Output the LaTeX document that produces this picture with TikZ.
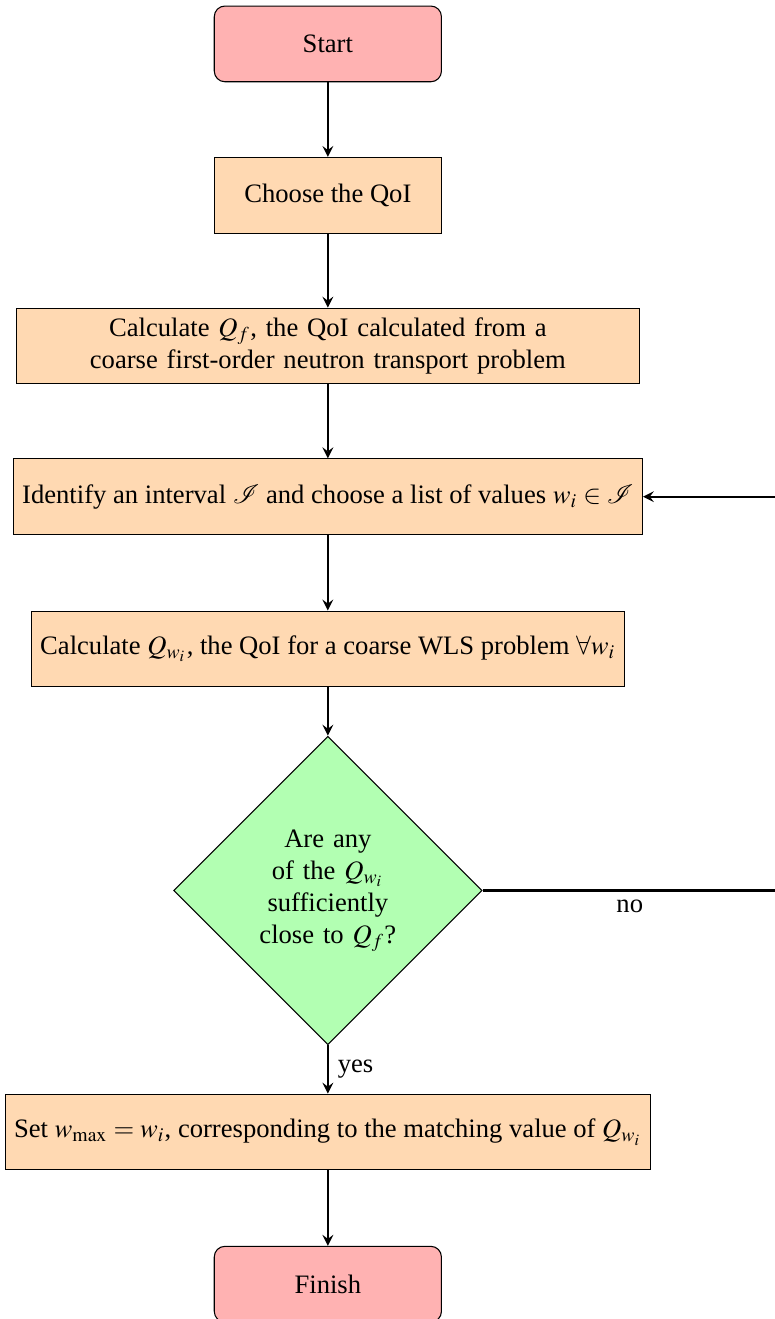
\documentclass[tikz,border=0pt]{standalone}
\usepackage{mathptmx}
\usepackage{fontspec}
\setmainfont{Liberation Serif}
\usetikzlibrary{shapes.geometric,arrows}

\begin{document}
\begin{tikzpicture}[
    startstop/.style={rectangle, rounded corners, minimum width=3cm, minimum height=1cm, text centered, draw=black, fill=red!30},
    process/.style={rectangle, minimum width=3cm, minimum height=1cm, text centered, draw=black, fill=orange!30},
    decision/.style={diamond, text width=2cm, align=center, draw=black, fill=green!30},
    arrow/.style={thick,->,>=stealth}]
      \useasboundingbox (-4.33,0.58) rectangle (5.905,-16.84);
      \path
      (0,0) node[startstop](start) {Start}
      (0,-2) node[process](qoi) {Choose the QoI}
      (0,-3.99) node[process, text width=8cm, align=center](qf) {Calculate $Q_f$, the QoI calculated from a\\ coarse first-order neutron transport problem}
      (0,-5.98) node[process](ident) {Identify an interval $\mathcal{I}$ and choose a list of values $w_i \in \mathcal{I}$}
      (0,-7.99) node[process](qw) {Calculate $Q_{w_i}$, the QoI for a coarse WLS problem $\forall w_i$}
      (0,-11.18) node[decision](dec) {Are any of the $Q_{w_i}$ sufficiently close to $Q_f$?}
      (0,-14.37) node[process](wmax) {Set $w_{\max} = w_i$, corresponding to the matching value of $Q_{w_i}$}
      (0,-16.38) node[startstop](stop) {Finish}
      (5.93,-11.18) coordinate(back)
      ;

      \draw[arrow] (start) -- (qoi);
      \draw[arrow] (qoi) -- (qf);
      \draw[arrow] (qf) -- (ident);
      \draw[arrow] (ident) -- (qw);
      \draw[arrow] (qw) -- (dec);
      \draw[arrow] (dec) -- node[anchor=west] {yes} (wmax);
      \draw[arrow] (dec) -- node[anchor=north] {no} (back) |- (ident);
      \draw[arrow] (wmax) -- (stop);
    \end{tikzpicture}
\end{document}
